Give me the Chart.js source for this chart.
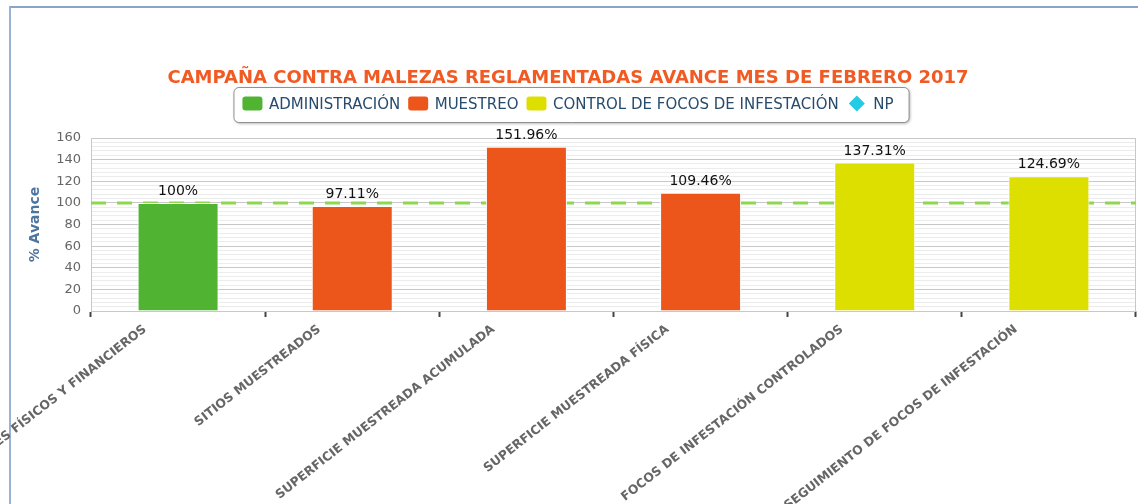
<!DOCTYPE html>
<html lang="es">
<head>
<meta charset="utf-8">
<title>Campaña contra malezas reglamentadas</title>
<script src="https://cdn.jsdelivr.net/npm/chart.js@4.4.1/dist/chart.umd.min.js"></script>
<style>
  html, body { margin: 0; padding: 0; background: #fff; overflow: hidden; }
  .frame { position: absolute; left: 9px; top: 6px; right: 0; bottom: 0; border-top: 2px solid #8aa4c9; border-left: 2px solid #9ab2d4; }
  .chart-box { position: absolute; left: 0; top: 0; width: 1152px; height: 504px; }
</style>
</head>
<body>
<div class="frame"></div>
<div class="chart-box"><canvas id="avanceChart"></canvas></div>
<script>
const categories = [
  "INFORMES FÍSICOS Y FINANCIEROS",
  "SITIOS MUESTREADOS",
  "SUPERFICIE MUESTREADA ACUMULADA",
  "SUPERFICIE MUESTREADA FÍSICA",
  "FOCOS DE INFESTACIÓN CONTROLADOS",
  "SEGUIMIENTO DE FOCOS DE INFESTACIÓN"
];
const administracion = [100, null, null, null, null, null];
const muestreo = [null, 97.11, 151.96, 109.46, null, null];
const controlFocos = [null, null, null, null, 137.31, 124.69];
const np = [null, null, null, null, null, null];
const meta = 100;
const yTickLabels = [0, 20, 40, 60, 80, 100, 120, 140, 160];

const FONT = "'DejaVu Sans', sans-serif";
const colors = { admin: "#50b432", muestreo: "#ed561b", control: "#dddf00", np: "#24cbe5" };
const legendShapes = ["square", "square", "square", "diamond"];

function drawMarker(ctx, shape, color, x, cy) {
  ctx.fillStyle = color;
  ctx.beginPath();
  if (shape === "diamond") {
    ctx.moveTo(x + 10, cy - 8);
    ctx.lineTo(x + 18, cy);
    ctx.lineTo(x + 10, cy + 8);
    ctx.lineTo(x + 2, cy);
    ctx.closePath();
  } else {
    ctx.roundRect(x, cy - 7, 20, 14, 3);
  }
  ctx.fill();
}

const frameAndExtras = {
  id: "frameAndExtras",
  beforeDraw(chart) {
    const { ctx } = chart;
    const boxes = chart.legend && chart.legend.legendHitBoxes;
    if (boxes && boxes.length) {
      const l = boxes[0].left - 9;
      const last = boxes[boxes.length - 1];
      const r = last.left + last.width + 15;
      const t = boxes[0].top - 5;
      const b = boxes[0].top + 30;
      ctx.save();
      ctx.shadowColor = "rgba(0,0,0,0.35)";
      ctx.shadowBlur = 3;
      ctx.shadowOffsetX = 1;
      ctx.shadowOffsetY = 1;
      ctx.fillStyle = "#fff";
      ctx.strokeStyle = "#909090";
      ctx.lineWidth = 1;
      ctx.beginPath();
      ctx.roundRect(l + 0.5, t + 0.5, r - l, b - t, 5);
      ctx.fill();
      ctx.shadowColor = "transparent";
      ctx.stroke();
      ctx.restore();
    }
  },
  beforeDatasetsDraw(chart) {
    const { ctx, chartArea: a, scales } = chart;
    ctx.save();
    ctx.strokeStyle = "#c8c8c8";
    ctx.lineWidth = 1;
    ctx.strokeRect(a.left + 0.5, a.top + 0.5, a.right - a.left - 1, a.bottom - a.top);
    const y = scales.y.getPixelForValue(meta);
    ctx.strokeStyle = "#8ed84e";
    ctx.lineWidth = 3;
    ctx.setLineDash([15, 11]);
    ctx.beginPath();
    ctx.moveTo(a.left, y);
    ctx.lineTo(a.right, y);
    ctx.stroke();
    ctx.restore();
  },
  afterDatasetsDraw(chart) {
    const { ctx } = chart;
    ctx.save();
    ctx.font = "14px " + FONT;
    ctx.fillStyle = "#111";
    ctx.textAlign = "center";
    ctx.textBaseline = "alphabetic";
    chart.data.datasets.forEach((ds, i) => {
      if (ds.type === "line") return;
      chart.getDatasetMeta(i).data.forEach((el, j) => {
        const v = ds.data[j];
        if (v === null) return;
        ctx.fillText(v + "%", el.x, el.y - 8);
      });
    });
    ctx.restore();
  },
  afterDraw(chart) {
    const { ctx } = chart;
    const boxes = chart.legend && chart.legend.legendHitBoxes;
    if (!boxes) return;
    ctx.save();
    boxes.forEach((hb, i) => {
      const ds = chart.data.datasets[i];
      drawMarker(ctx, legendShapes[i], ds.backgroundColor, hb.left, hb.top + hb.height / 2 - 2);
    });
    ctx.restore();
  }
};

new Chart(document.getElementById("avanceChart"), {
  type: "bar",
  data: {
    labels: categories,
    datasets: [
      { label: "ADMINISTRACIÓN", data: administracion, backgroundColor: colors.admin },
      { label: "MUESTREO", data: muestreo, backgroundColor: colors.muestreo },
      { label: "CONTROL DE FOCOS DE INFESTACIÓN", data: controlFocos, backgroundColor: colors.control },
      { type: "line", label: "NP", data: np, borderColor: colors.np, backgroundColor: colors.np }
    ]
  },
  options: {
    responsive: true,
    maintainAspectRatio: false,
    animation: false,
    layout: { padding: { left: 0, right: 16, top: 0, bottom: 0 } },
    datasets: {
      bar: { skipNull: true, categoryPercentage: 1, barPercentage: 0.465, borderColor: "#fff", borderWidth: 1 }
    },
    plugins: {
      title: {
        display: true,
        text: "CAMPAÑA CONTRA MALEZAS REGLAMENTADAS AVANCE MES DE FEBRERO 2017",
        color: "#f15a22",
        font: { family: FONT, size: 18, weight: "bold" },
        padding: { top: 68, bottom: -5.6 }
      },
      legend: {
        labels: {
          boxWidth: 19,
          boxHeight: 27,
          padding: 8,
          color: "#274b6d",
          font: { family: FONT, size: 15 },
          generateLabels: (chart) => chart.data.datasets.map((ds, i) => ({
            text: ds.label,
            datasetIndex: i,
            fillStyle: "rgba(0,0,0,0)",
            strokeStyle: "rgba(0,0,0,0)",
            lineWidth: 0,
            fontColor: "#274b6d",
            hidden: false
          }))
        }
      },
      tooltip: { enabled: false }
    },
    scales: {
      // empty top axis, only keeps a gap between legend and plot
      gap: {
        type: "category",
        position: "top",
        grid: { display: false },
        border: { display: false },
        ticks: { display: false },
        afterFit(scale) {
          scale.height = 9;
          scale.paddingLeft = 0;
          scale.paddingRight = 0;
        }
      },
      x: {
        grid: { color: "rgba(0,0,0,0)", drawOnChartArea: false, tickColor: "#444", tickWidth: 2, tickLength: 6 },
        border: { display: true, color: "#c8c8c8" },
        ticks: {
          color: "#666",
          font: { family: FONT, size: 12.4, weight: "bold" },
          minRotation: 38,
          maxRotation: 38,
          autoSkip: false,
          padding: 5,
          labelOffset: -33
        },
        afterFit(scale) {
          scale.height = 193;
          scale.paddingLeft = 0;
          scale.paddingRight = 0;
        }
      },
      y: {
        min: 0,
        max: 160,
        grid: {
          drawTicks: false,
          color: (c) => (yTickLabels.includes(c.tick.value) ? "#c8c8c8" : "#ececec")
        },
        border: { display: true, color: "#c8c8c8" },
        ticks: {
          stepSize: 4,
          autoSkip: false,
          padding: 10,
          color: "#666",
          font: { family: FONT, size: 13 },
          callback: (v) => (yTickLabels.includes(v) ? v : "")
        },
        title: {
          display: true,
          text: "% Avance",
          color: "#4d759e",
          font: { family: FONT, size: 14, weight: "bold" },
          padding: { top: 27, bottom: 0 }
        },
        afterFit(scale) {
          scale.width = 91;
        }
      }
    }
  },
  plugins: [frameAndExtras]
});
</script>
</body>
</html>
